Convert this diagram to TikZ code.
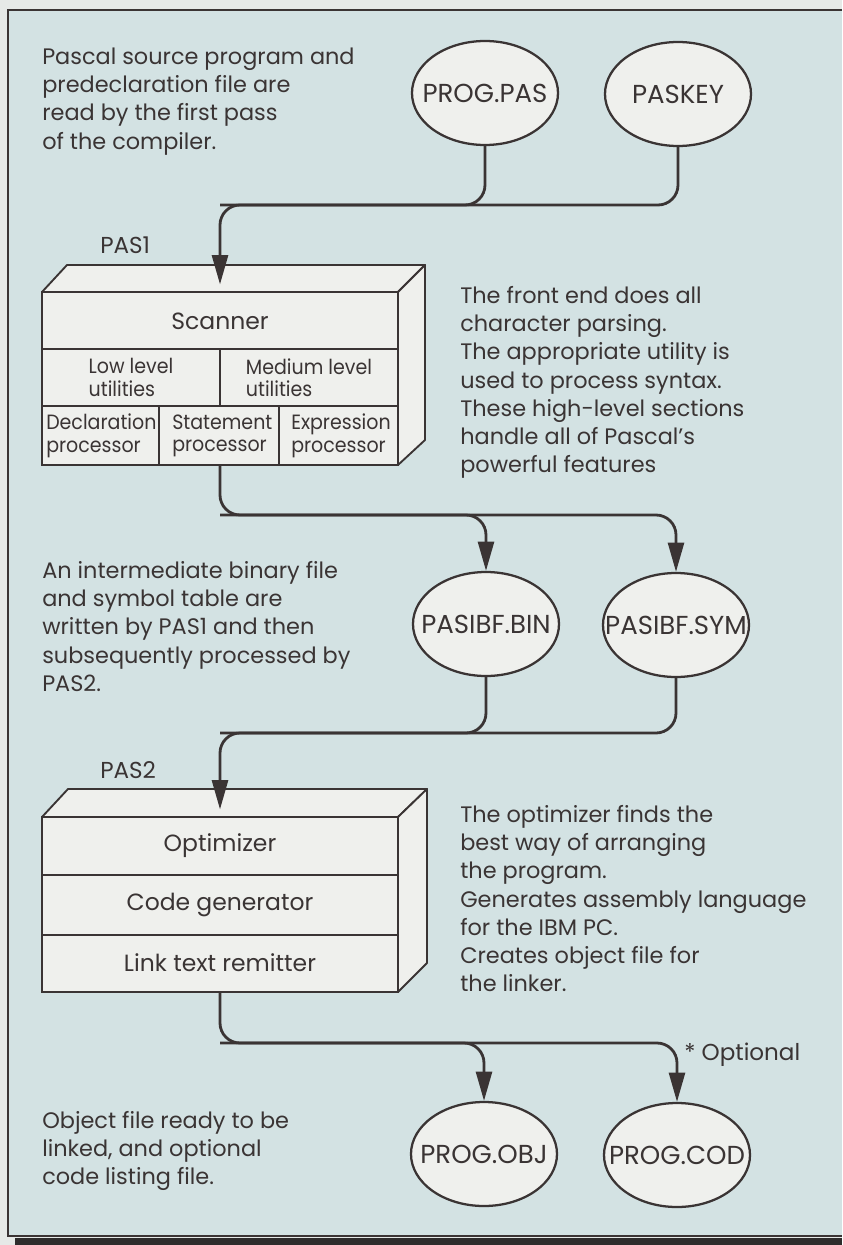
\documentclass[tikz,border=0pt]{standalone}
\usepackage{fontspec}
\setmainfont{Poppins}
\newfontfamily\cellfont[FakeStretch=0.92]{Poppins}
\usetikzlibrary{shapes.geometric,arrows.meta}
\definecolor{bgpage}{HTML}{E6E9E7}
\definecolor{panel}{HTML}{D3E2E3}
\definecolor{ink}{HTML}{3A3434}
\definecolor{face}{HTML}{EFF0ED}
\definecolor{band}{HTML}{2E2C2C}
\newcommand{\topstrut}{\rule{0pt}{14pt}}
\newcommand{\filename}[1]{\makebox[0pt]{#1}}
\begin{document}
\begin{tikzpicture}[x=0.75pt,y=-0.75pt,
  conn/.style={draw=ink,line width=2.1pt,rounded corners=15pt},
  arr/.style={conn,-{Triangle[length=22pt,width=12pt]}},
  file/.style={ellipse,draw=ink,line width=1.7pt,fill=face,
    minimum width=109.5pt,minimum height=78pt,inner sep=0pt,text=ink,
    font=\fontsize{19.5pt}{22pt}\selectfont},
  note/.style={anchor=north west,inner sep=0pt,align=left,text=ink,
    yshift=14pt,font=\fontsize{16.8pt}{21.2pt}\selectfont},
  passlabel/.style={anchor=base west,inner sep=0pt,text=ink,
    font=\fontsize{17.3pt}{20pt}\selectfont},
  face3d/.style={draw=ink,line width=1.4pt,fill=face,line join=round},
  front/.style={draw=ink,line width=1.4pt,fill=face,inner sep=0pt,
    minimum width=267pt},
  rowline/.style={draw=ink,line width=1.4pt},
  bigcell/.style={inner sep=0pt,text=ink,font=\fontsize{17.6pt}{20pt}\selectfont},
  smallcell/.style={inner sep=0pt,text=ink,align=left,
    font=\cellfont\fontsize{15.5pt}{16.8pt}\selectfont}
]
\useasboundingbox (0,0) rectangle (842,1245);

% page and panel
\fill[bgpage] (0,0) rectangle (842,1245);
\fill[panel] (8,10) rectangle (842,1236);
\draw[ink,line width=0.9pt] (842,10) -- (8,10) -- (8,1236) -- (842,1236);
\fill[band] (15,1238) rectangle (842,1245);

% explanatory texts
\node[note] (t1) at (42,64) {\topstrut Pascal source program and\\predeclaration file are\\read by the first pass\\of the compiler.};
\node[note] (t2) at (460,303) {\topstrut The front end does all\\character parsing.\\The appropriate utility is\\used to process syntax.\\These high-level sections\\handle all of Pascal’s\\powerful features};
\node[note] (t3) at (42,578) {\topstrut An intermediate binary file\\and symbol table are\\written by PAS1 and then\\subsequently processed by\\PAS2.};
\node[note] (t4) at (460,822) {\topstrut The optimizer finds the\\best way of arranging\\the program.\\Generates assembly language\\for the IBM PC.\\Creates object file for\\the linker.};
\node[note] (t5) at (42,1128) {\topstrut Object file ready to be\\linked, and optional\\code listing file.};
\node[passlabel] (opt) at (684,1060) {* Optional};

% files
\node[file] (progpas) at (485,93) {\filename{PROG.PAS}};
\node[file] (paskey) at (678,94) {\filename{PASKEY}};
\node[file] (bin) at (486,624) {\filename{PASIBF.BIN}};
\node[file] (sym) at (676,625) {\filename{PASIBF.SYM}};
\node[file] (obj) at (484,1154) {\filename{PROG.OBJ}};
\node[file] (cod) at (677,1155) {\filename{PROG.COD}};

% first pass: PAS1
\node[passlabel] (l1) at (100,253) {PAS1};
\path[face3d] (42,292) -- (67,265) -- (425,265) -- (398,292) -- cycle;
\path[face3d] (398,292) -- (425,265) -- (425,440) -- (398,465) -- cycle;
\node[front,minimum height=129.75pt] (pas1) at (220,378.5) {};
\draw[rowline] (42,349) -- (398,349);
\draw[rowline] (42,406) -- (398,406);
\draw[rowline] (220,349) -- (220,406);
\draw[rowline] (159,406) -- (159,465);
\draw[rowline] (279,406) -- (279,465);
\node[bigcell] (scan) at (220,321) {Scanner};
\node[smallcell] (low) at (131,377.5) {Low level\\utilities};
\node[smallcell] (med) at (309,377.5) {Medium level\\utilities};
\node[smallcell,anchor=west] (decl) at (46,436) {Declaration\\processor};
\node[smallcell,anchor=west] (stat) at (172,436) {Statement\\processor};
\node[smallcell,anchor=west] (expr) at (291,436) {Expression\\processor};

% second pass: PAS2
\node[passlabel] (l2) at (100,778) {PAS2};
\path[face3d] (42,817) -- (68,789) -- (427,789) -- (398,817) -- cycle;
\path[face3d] (398,817) -- (427,789) -- (427,963) -- (398,992) -- cycle;
\node[front,minimum height=131.25pt] (pas2) at (220,904.5) {};
\draw[rowline] (42,875) -- (398,875);
\draw[rowline] (42,935) -- (398,935);
\node[bigcell] (optim) at (220,846) {Optimizer};
\node[bigcell] (cgen) at (220,905) {Code generator};
\node[bigcell] (link) at (220,963) {Link text remitter};

% junctions on the buses
\coordinate (bus1) at (220,205);
\coordinate (bus2) at (220,515);
\coordinate (bus3) at (220,733);
\coordinate (bus4) at (220,1043);

% connectors
\draw[conn] (progpas.south) |- (bus1);
\draw[arr,shorten >=5pt] (paskey.south) |- (bus1) -- (pas1.north);
\draw[arr] (pas1.south) -- (bus2) -| (sym.north);
\draw[arr] (bus2) -| (bin.north);
\draw[conn] (bin.south) |- (bus3);
\draw[arr,shorten >=5pt] (sym.south) |- (bus3) -- (pas2.north);
\draw[arr] (pas2.south) -- (bus4) -| (cod.north);
\draw[arr] (bus4) -| (obj.north);
\end{tikzpicture}
\end{document}
